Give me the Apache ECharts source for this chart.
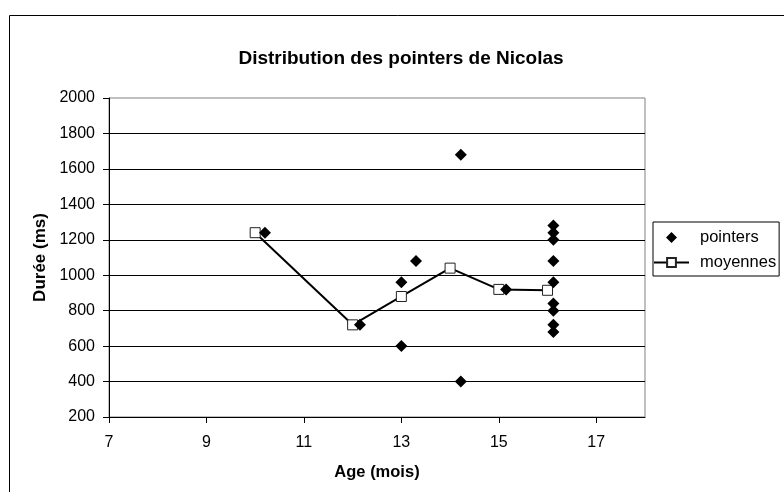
<!DOCTYPE html>
<html>
<head>
<meta charset="utf-8">
<script src="https://cdn.jsdelivr.net/npm/echarts@6/dist/echarts.min.js"></script>
<style>
  html, body { margin: 0; padding: 0; background: #fff; }
  #chart { width: 784px; height: 492px; }
</style>
</head>
<body>
<div id="chart"></div>
<script>
// Individual pointing durations: [age in months, duration in ms]
const pointerAges = [10.2, 12.15, 13.0, 13.0, 13.3, 14.22, 14.22, 15.15,
  16.12, 16.12, 16.12, 16.12, 16.12, 16.12, 16.12, 16.12, 16.12];
const pointerDurations = [1240, 720, 960, 600, 1080, 1680, 400, 920,
  1280, 1240, 1200, 1080, 960, 840, 800, 720, 680];

// Monthly averages
const meanAges = [10, 12, 13, 14, 15, 16];
const meanDurations = [1240, 720, 880, 1040, 920, 915];

const xMin = 7, xMax = 18, xStep = 2;
const yMin = 200, yMax = 2000, yStep = 200;

const font = 'Liberation Sans, Arial, sans-serif';

const pointerData = pointerAges.map((a, i) => [a, pointerDurations[i]]);
const meanData = meanAges.map((a, i) => [a, meanDurations[i]]);

const chart = echarts.init(document.getElementById('chart'), null, { renderer: 'canvas' });

chart.setOption({
  animation: false,
  backgroundColor: '#ffffff',
  title: {
    text: 'Distribution des pointers de Nicolas',
    left: 401,
    textAlign: 'center',
    top: 49,
    padding: 0,
    textStyle: { fontFamily: font, fontSize: 19, fontWeight: 'bold', color: '#000' }
  },
  graphic: [{
    type: 'rect',
    shape: { x: 9.5, y: 15.5, width: 800, height: 500 },
    style: { fill: 'none', stroke: '#000', lineWidth: 1 },
    silent: true
  }],
  grid: {
    left: 109, right: 139, top: 98, bottom: 75,
    show: true, borderColor: '#808080', borderWidth: 1, backgroundColor: 'transparent'
  },
  legend: {
    orient: 'vertical',
    left: 653, top: 222,
    padding: [6, 3, 4, 0],
    itemGap: 6,
    itemWidth: 35, itemHeight: 11,
    symbolKeepAspect: true,
    borderColor: '#000', borderWidth: 1, borderRadius: 0,
    textStyle: { fontFamily: font, fontSize: 16.5, color: '#000', lineHeight: 19, padding: [0, 0, 0, 6] },
    data: [
      { name: 'pointers', icon: 'path://M0,-1L1,0L0,1L-1,0Z', itemStyle: { color: '#000', opacity: 1 } },
      { name: 'moyennes' }
    ]
  },
  xAxis: {
    type: 'value',
    min: xMin, max: xMax, interval: xStep,
    name: 'Age (mois)',
    nameLocation: 'middle',
    nameGap: 47,
    nameTextStyle: { fontFamily: font, fontSize: 16.5, fontWeight: 'bold', color: '#000' },
    axisLine: { onZero: false, lineStyle: { color: '#000', width: 1 } },
    axisTick: { show: true, length: 6, lineStyle: { color: '#000' } },
    axisLabel: { fontFamily: font, fontSize: 16, color: '#000', margin: 18, showMaxLabel: false },
    splitLine: { show: false }
  },
  yAxis: {
    type: 'value',
    min: yMin, max: yMax, interval: yStep,
    name: 'Durée (ms)',
    nameLocation: 'middle',
    nameGap: 60,
    nameRotate: 90,
    nameTextStyle: { fontFamily: font, fontSize: 17, fontWeight: 'bold', color: '#000' },
    axisLine: { onZero: false, lineStyle: { color: '#000', width: 1 } },
    axisTick: { show: true, length: 6, lineStyle: { color: '#000' } },
    axisLabel: { fontFamily: font, fontSize: 16, color: '#000', margin: 14, formatter: v => String(v) },
    splitLine: { show: true, showMaxLine: false, showMinLine: false, lineStyle: { color: '#000', width: 1 } }
  },
  series: [
    {
      name: 'pointers',
      type: 'scatter',
      z: 3,
      symbol: 'diamond',
      symbolSize: 12,
      itemStyle: { color: '#000', opacity: 1 },
      data: pointerData
    },
    {
      name: 'moyennes',
      type: 'line',
      z: 2,
      symbol: 'rect',
      symbolSize: 10,
      showAllSymbol: true,
      lineStyle: { color: '#000', width: 2 },
      itemStyle: { color: '#fff', borderColor: '#222', borderWidth: 1 },
      data: meanData
    }
  ]
});
</script>
</body>
</html>
